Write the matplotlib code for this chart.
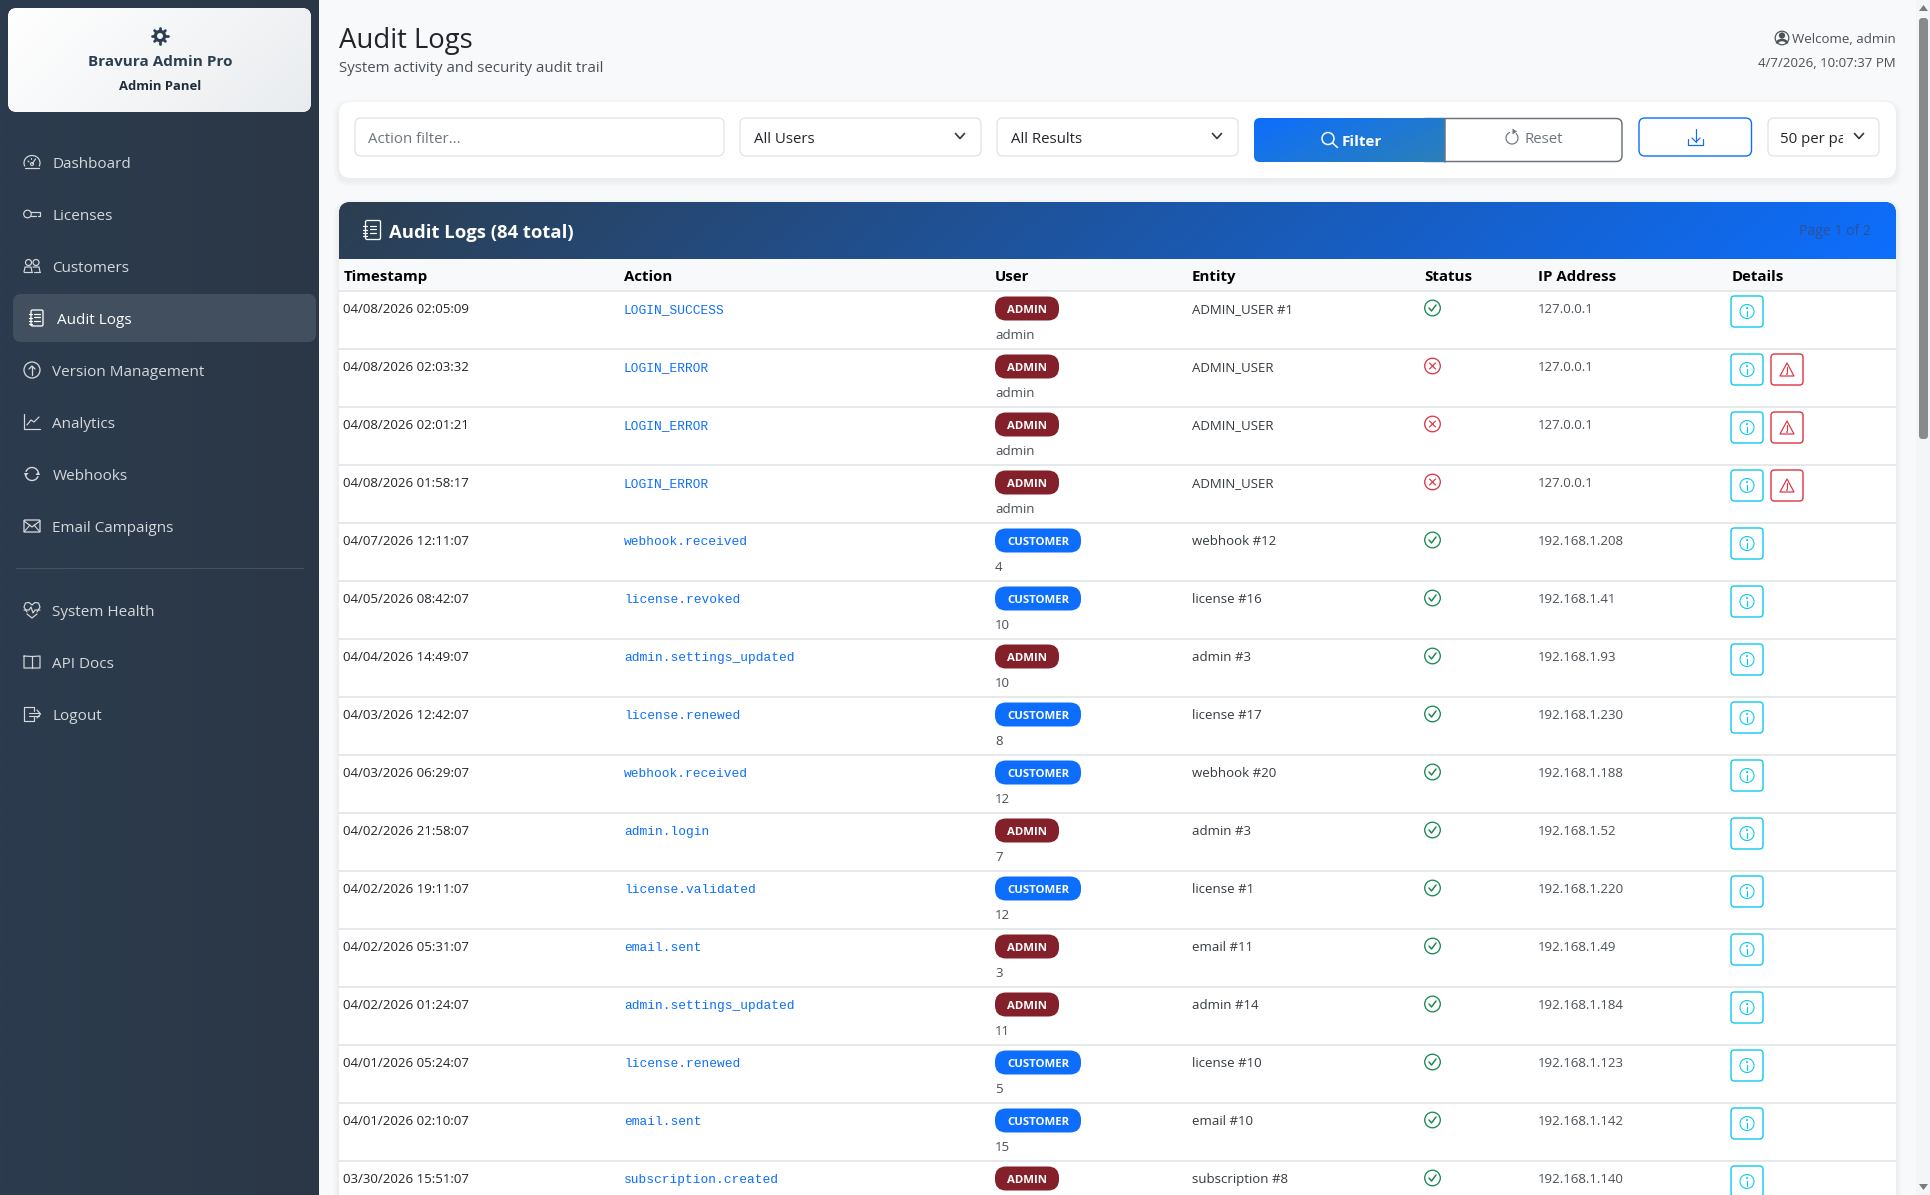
import numpy as np
import matplotlib
matplotlib.use('Agg')
import matplotlib.pyplot as plt
from matplotlib.colors import LinearSegmentedColormap
from matplotlib.patches import Arc, Circle, FancyBboxPatch, Polygon, Rectangle

W, H = 1931, 1195
SANS = 'Open Sans'
MONO = 'Liberation Mono'

nav_top = ['Dashboard', 'Licenses', 'Customers', 'Audit Logs', 'Version Management',
           'Analytics', 'Webhooks', 'Email Campaigns']
nav_bottom = ['System Health', 'API Docs', 'Logout']

columns = ['Timestamp', 'Action', 'User', 'Entity', 'Status', 'IP Address', 'Details']
timestamps = ['04/08/2026 02:05:09', '04/08/2026 02:03:32', '04/08/2026 02:01:21',
              '04/08/2026 01:58:17', '04/07/2026 12:11:07', '04/05/2026 08:42:07',
              '04/04/2026 14:49:07', '04/03/2026 12:42:07', '04/03/2026 06:29:07',
              '04/02/2026 21:58:07', '04/02/2026 19:11:07', '04/02/2026 05:31:07',
              '04/02/2026 01:24:07', '04/01/2026 05:24:07', '04/01/2026 02:10:07',
              '03/30/2026 15:51:07']
actions = ['LOGIN_SUCCESS', 'LOGIN_ERROR', 'LOGIN_ERROR', 'LOGIN_ERROR', 'webhook.received',
           'license.revoked', 'admin.settings_updated', 'license.renewed', 'webhook.received',
           'admin.login', 'license.validated', 'email.sent', 'admin.settings_updated',
           'license.renewed', 'email.sent', 'subscription.created']
user_types = ['ADMIN', 'ADMIN', 'ADMIN', 'ADMIN', 'CUSTOMER', 'CUSTOMER', 'ADMIN', 'CUSTOMER',
              'CUSTOMER', 'ADMIN', 'CUSTOMER', 'ADMIN', 'ADMIN', 'CUSTOMER', 'CUSTOMER', 'ADMIN']
user_ids = ['admin', 'admin', 'admin', 'admin', '4', '10', '10', '8', '12', '7', '12', '3',
            '11', '5', '15', '']
entities = ['ADMIN_USER #1', 'ADMIN_USER', 'ADMIN_USER', 'ADMIN_USER', 'webhook #12',
            'license #16', 'admin #3', 'license #17', 'webhook #20', 'admin #3', 'license #1',
            'email #11', 'admin #14', 'license #10', 'email #10', 'subscription #8']
success = [True, False, False, False, True, True, True, True, True, True, True, True, True,
           True, True, True]
ips = ['127.0.0.1', '127.0.0.1', '127.0.0.1', '127.0.0.1', '192.168.1.208', '192.168.1.41',
       '192.168.1.93', '192.168.1.230', '192.168.1.188', '192.168.1.52', '192.168.1.220',
       '192.168.1.49', '192.168.1.184', '192.168.1.123', '192.168.1.142', '192.168.1.140']

fig = plt.figure(figsize=(W / 100, H / 100), dpi=100, facecolor='#f8f9fa')
ax = fig.add_axes([0, 0, 1, 1])
ax.set_xlim(0, W)
ax.set_ylim(H, 0)
ax.axis('off')


def px(v):
    return v * 0.72


def rbox(x0, y0, x1, y1, r=6, fc='white', ec='none', lw=1.0, z=2, alpha=None):
    p = FancyBboxPatch((x0 + r, y0 + r), x1 - x0 - 2 * r, y1 - y0 - 2 * r,
                       boxstyle=f'round,pad={r},rounding_size={r}',
                       fc=fc, ec=ec, lw=lw, zorder=z, alpha=alpha)
    ax.add_patch(p)
    return p


def gradient(x0, y0, x1, y1, c0, c1, clip, slant=0.0, z=3):
    yy, xx = np.mgrid[0:1:40j, 0:1:300j]
    t = (xx + slant * yy) / (1 + slant)
    cmap = LinearSegmentedColormap.from_list('g', [c0, c1])
    im = ax.imshow(t, extent=[x0, x1, y1, y0], cmap=cmap, zorder=z, aspect='auto',
                   interpolation='bilinear')
    im.set_clip_path(clip)
    ax.set_xlim(0, W)
    ax.set_ylim(H, 0)


def txt(x, y, s, size, color='#212529', weight='normal', ha='left', family=SANS, z=6):
    return ax.text(x, y, s, fontsize=px(size), color=color, fontweight=weight, ha=ha,
                   va='baseline', family=family, zorder=z)


def line(xs, ys, color, lw=1.3, z=6):
    ax.plot(xs, ys, color=color, lw=px(lw), solid_capstyle='round',
            solid_joinstyle='round', zorder=z)


def circ(x, y, r, color, lw=1.3, fill='none', z=6):
    ax.add_patch(Circle((x, y), r, fc=fill, ec=color, lw=px(lw), zorder=z))


def shadow(x0, y0, x1, y1, r=12):
    for k in range(6, 0, -1):
        rbox(x0 - k, y0 - k + 3, x1 + k, y1 + k + 3, r=r + k, fc='#000000', alpha=0.006, z=1)


def chevron(x, y, color='#343a40'):
    line([x - 4.5, x, x + 4.5], [y - 2.5, y + 2.5, y - 2.5], color, lw=1.7)


# sidebar icons
def ic_gauge(x, y, c):
    ax.add_patch(Arc((x, y + 1), 16, 15, theta1=-205, theta2=25, ec=c, lw=px(1.2), zorder=6))
    line([x - 7, x + 7], [y + 6, y + 6], c, 1.2)
    line([x, x + 3.5], [y + 2, y - 3], c, 1.2)
    circ(x, y + 2, 1.5, c, 1)
    line([x - 4, x - 3], [y - 1, y], c, 1.1)
    line([x - 1, x - 1], [y - 4, y - 3], c, 1.1)


def ic_key(x, y, c):
    circ(x - 4.5, y, 3.8, c, 1.2)
    line([x - 1, x + 8, x + 8, x + 6], [y - 2, y - 2, y + 2, y + 2], c, 1.2)
    line([x - 1, x + 4], [y + 2, y + 2], c, 1.2)


def ic_people(x, y, c):
    circ(x - 3.5, y - 3.5, 3, c, 1.2)
    circ(x + 4, y - 3.5, 3, c, 1.2)
    line([x - 8, x - 7, x - 1, x], [y + 6, y + 1, y + 1, y + 6], c, 1.2)
    line([x + 1, x + 2, x + 7, x + 8], [y + 1, y + 1, y + 1, y + 6], c, 1.2)
    line([x - 8, x], [y + 6, y + 6], c, 1.2)
    line([x + 2, x + 8], [y + 6, y + 6], c, 1.2)


def ic_journal(x, y, c, w=13, h=18):
    rbox(x - w / 2 + 1, y - h / 2, x + w / 2 + 1, y + h / 2, r=1.5, fc='none', ec=c, lw=px(1.3), z=6)
    for dy in (-4.5, -1, 2.5):
        line([x - 1.5, x + 4.5], [y + dy, y + dy], c, 1.2)
        line([x - w / 2 - 1, x - w / 2 + 2.5], [y + dy + 0.5, y + dy + 0.5], c, 1.2)
    line([x - w / 2 - 1, x - w / 2 + 2.5], [y + 6, y + 6], c, 1.2)


def ic_up(x, y, c):
    circ(x, y, 8, c, 1.3)
    line([x, x], [y + 4.5, y - 4], c, 1.3)
    line([x - 3, x, x + 3], [y - 1, y - 4, y - 1], c, 1.3)


def ic_chart(x, y, c):
    line([x - 8, x - 8, x + 8], [y - 8, y + 7, y + 7], c, 1.2)
    line([x - 5, x - 1, x + 2, x + 7], [y + 3, y - 2, y, y - 5], c, 1.2)


def ic_sync(x, y, c):
    ax.add_patch(Arc((x, y), 13, 13, theta1=200, theta2=340, ec=c, lw=px(1.4), zorder=6))
    ax.add_patch(Arc((x, y), 13, 13, theta1=20, theta2=160, ec=c, lw=px(1.4), zorder=6))
    ax.add_patch(Polygon([[x - 8, y - 1], [x - 3.5, y - 1], [x - 6.5, y + 3]], fc=c, ec='none', zorder=6))
    ax.add_patch(Polygon([[x + 8, y + 1], [x + 3.5, y + 1], [x + 6.5, y - 3]], fc=c, ec='none', zorder=6))


def ic_mail(x, y, c):
    rbox(x - 8, y - 6, x + 8, y + 6, r=1, fc='none', ec=c, lw=px(1.3), z=6)
    line([x - 8, x, x + 8], [y - 5, y + 1, y - 5], c, 1.2)
    line([x - 8, x - 2], [y + 6, y - 1], c, 1.1)
    line([x + 8, x + 2], [y + 6, y - 1], c, 1.1)


def ic_heart(x, y, c):
    line([x - 5, x - 8, x - 6.5, x - 3, x, x + 3, x + 6.5, x + 8, x + 5],
         [y + 2, y - 3, y - 7, y - 7.5, y - 5, y - 7.5, y - 7, y - 3, y + 2], c, 1.2)
    line([x - 5, x, x + 5], [y + 4, y + 8, y + 4], c, 1.2)
    line([x - 8, x - 3, x - 1, x + 1, x + 3, x + 8], [y, y, y - 3, y + 3, y, y], c, 1.2)


def ic_book(x, y, c):
    line([x - 8, x - 8, x, x + 8, x + 8, x, x - 8], [y - 6, y + 6, y + 6, y + 6, y - 6, y - 5.5, y - 6], c, 1.2)
    line([x, x], [y - 6, y + 6], c, 1.2)


def ic_exit(x, y, c):
    line([x + 2, x + 2, x - 8, x - 8, x + 2, x + 2], [y - 3, y - 7, y - 7, y + 7, y + 7, y + 3], c, 1.2)
    line([x - 3, x + 7], [y - 1.5, y - 1.5], c, 1.1)
    line([x - 3, x + 7], [y + 1.5, y + 1.5], c, 1.1)
    line([x + 5, x + 8.5, x + 5], [y - 4, y, y + 4], c, 1.2)


# sidebar
sb_clip = Rectangle((0, 0), 319, H, fc='#2c3a4b', zorder=2)
ax.add_patch(sb_clip)
gradient(0, 0, 319, H, '#2c3c4e', '#2b3746', sb_clip, z=2.5)

hdr = rbox(8, 8, 311, 112, r=9, fc='white', z=3)
gradient(8, 8, 311, 112, '#ffffff', '#e9ecef', hdr, slant=0.35, z=3.5)
circ(160, 36, 4.6, '#2c3e50', 3.2)
for a in np.deg2rad(np.arange(0, 360, 45)):
    line([160 + 6 * np.cos(a), 160 + 7.6 * np.cos(a)],
         [36 + 6 * np.sin(a), 36 + 7.6 * np.sin(a)], '#2c3e50', 2.8)
txt(160, 66, 'Bravura Admin Pro', 15.2, '#2c3e50', 'bold', 'center')
txt(160, 90, 'Admin Panel', 13, '#212c3a', 'bold', 'center')

rbox(13, 294, 316, 342, r=8, fc='#414f5e', z=3)

nav_color = '#d5d8db'
nav_icons = [ic_gauge, ic_key, ic_people, None, ic_up, ic_chart, ic_sync, ic_mail]
for i, name in enumerate(nav_top):
    yc = 163 + 52 * i
    if name == 'Audit Logs':
        ic_journal(36, yc - 1, 'white', 12, 16)
        txt(57.5, yc + 4.5, name, 15.2, 'white')
    else:
        nav_icons[i](32, yc - 1, nav_color)
        txt(52.5, yc + 4.5, name, 15.2, nav_color)

line([16, 303], [568, 568], '#46535f', 1.2, z=4)
bottom_icons = [ic_heart, ic_book, ic_exit]
for i, name in enumerate(nav_bottom):
    yc = 611 + 52 * i
    bottom_icons[i](32, yc - 1, nav_color)
    txt(52.5, yc + 4.5, name, 15.2, nav_color)

# page head
txt(339, 48, 'Audit Logs', 27.5, '#212529')
txt(339, 72, 'System activity and security audit trail', 15, '#495057')
txt(1895.5, 43, 'Welcome, admin', 13.2, '#495057', ha='right')
txt(1895.5, 67, '4/7/2026, 10:07:37 PM', 13.2, '#495057', ha='right')
circ(1782, 38, 6.8, '#495057', 1.2)
circ(1782, 35.5, 2.6, '#495057', 1, fill='#495057')
ax.add_patch(Arc((1782, 43.5), 10, 7, theta1=180, theta2=360, ec='#495057', lw=px(2.5), zorder=6))

# filter card
shadow(339, 102, 1896, 178)
rbox(339, 102, 1896, 178, r=12, fc='white')
border = '#dee2e6'
rbox(355, 118, 724, 156, r=6, ec=border, lw=px(1.2), z=3)
txt(368.5, 142.5, 'Action filter...', 15, '#6c757d')
rbox(740, 118, 981, 156, r=6, ec=border, lw=px(1.2), z=3)
txt(754, 142.5, 'All Users', 15)
chevron(960, 136)
rbox(997, 118, 1238, 156, r=6, ec=border, lw=px(1.2), z=3)
txt(1011, 142.5, 'All Results', 15)
chevron(1217, 136)

# filter and reset sit joined together, reset goes under the filter gradient
rbox(1420, 118.5, 1622, 161.5, r=6, fc='white', ec='#6c757d', lw=px(1.5), z=3)
btn = rbox(1254, 118, 1470, 162, r=6, fc='none', z=3.1)
gradient(1254, 118, 1444.5, 162, '#0d6efd', '#2c80b8', btn, slant=0.5, z=3.2)
line([1445, 1445], [118.5, 161.5], '#6c757d', 1.5, z=3.6)
circ(1328, 138.5, 6, 'white', 1.5)
line([1332.5, 1337.5], [143, 147.5], 'white', 1.6)
txt(1342, 146, 'Filter', 15.2, 'white', 'bold')
ax.add_patch(Arc((1512, 138), 12, 12, theta1=-50, theta2=250, ec='#6c757d', lw=px(1.2), zorder=6))
ax.add_patch(Polygon([[1512.5, 128.5], [1512.5, 134.5], [1517, 131.5]], fc='#6c757d', ec='none', zorder=6))
txt(1525, 142.5, 'Reset', 15, '#6c757d')

rbox(1639, 118, 1751.5, 156, r=6, ec='#0d6efd', lw=px(1.4), z=3)
line([1696, 1696], [129, 142], '#0d6efd', 1.2)
line([1692, 1696, 1700], [138, 142, 138], '#0d6efd', 1.2)
line([1688.5, 1688.5, 1703.5, 1703.5], [139, 144.5, 144.5, 139], '#0d6efd', 1.2)

rbox(1768, 118, 1879, 156, r=6, ec=border, lw=px(1.2), z=3)
t = txt(1780, 142.5, '50 per page', 15)
t.set_clip_path(Rectangle((1770, 118), 73, 38, transform=ax.transData))
t.set_clip_on(True)
chevron(1859, 136)

# table panel
shadow(339, 202, 1896, H + 40)
ax.add_patch(Rectangle((339, 240), 1557, H - 240, fc='white', ec='none', zorder=2))
head = rbox(339, 202, 1896, 290, r=12, fc='#2c3e50', z=2.2)
gradient(339, 202, 1896, 258.5, '#2c3e50', '#0d6efd', head, slant=0.04, z=2.4)
ax.add_patch(Rectangle((339, 258.5), 1557, 32.5, fc='#f8f9fa', ec='none', zorder=2.6))
ic_journal(372, 230, 'white', 15, 19)
txt(389, 238, 'Audit Logs (84 total)', 18.5, 'white', 'bold')
txt(1871, 235, 'Page 1 of 2', 14, '#2b5496', ha='right')

col_x = [343.5, 624.5, 995, 1192, 1424.5, 1538, 1731.5]
for x, name in zip(col_x, columns):
    txt(x, 280.5, name, 15, '#000000', 'bold')
line([339, 1896], [291, 291], border, 1.5, z=3)

for i, ts in enumerate(timestamps):
    top = 291 + 58 * i
    line([339, 1896], [top + 58, top + 58], border, 1.5, z=3)
    txt(343.5, top + 22, ts, 13.2, '#212529')
    txt(624, top + 22, actions[i], 12.9, '#0d6efd', family=MONO)

    is_admin = user_types[i] == 'ADMIN'
    rbox(995, top + 5.5, 1059 if is_admin else 1081, top + 29.5, r=11,
         fc='#842029' if is_admin else '#0d6efd', z=4)
    txt(1027 if is_admin else 1038, top + 22, user_types[i], 11.4, 'white', 'bold', 'center')
    txt(995, top + 48, user_ids[i], 13.2, '#495057')
    txt(1192, top + 22, entities[i], 13.2, '#343a40')

    cx, cy = 1432.5, top + 17
    if success[i]:
        circ(cx, cy, 7.8, '#198754', 1.3)
        line([cx - 3.5, cx - 1, cx + 3.5], [cy, cy + 3, cy - 3], '#198754', 1.5)
    else:
        circ(cx, cy, 7.8, '#dc3545', 1.3)
        line([cx - 3, cx + 3], [cy - 3, cy + 3], '#dc3545', 1.2)
        line([cx - 3, cx + 3], [cy + 3, cy - 3], '#dc3545', 1.2)

    txt(1538, top + 22, ips[i], 13.2, '#495057')

    rbox(1731, top + 5, 1763, top + 36, r=3.5, ec='#0dcaf0', lw=px(1.4), z=4)
    circ(1747, top + 20.5, 7, '#0dcaf0', 1.1)
    line([1747, 1747], [top + 20, top + 25], '#0dcaf0', 1.3)
    circ(1747, top + 17, 0.5, '#0dcaf0', 1)
    if not success[i]:
        rbox(1771, top + 5, 1803, top + 36, r=3.5, ec='#dc3545', lw=px(1.4), z=4)
        ax.add_patch(Polygon([[1787, top + 14], [1794, top + 27], [1780, top + 27]], fc='none',
                             ec='#dc3545', lw=px(1.2), joinstyle='round', zorder=6))
        line([1787, 1787], [top + 18, top + 22.5], '#dc3545', 1.2)
        circ(1787, top + 25, 0.4, '#dc3545', 1)

# scrollbar
ax.add_patch(Rectangle((1916, 0), 15, H, fc='#f4f5f6', ec='none', zorder=7))
rbox(1919, 18, 1928, 439, r=3.5, fc='#8a8a8a', z=8)
ax.add_patch(Polygon([[1923.5, 5], [1919, 11], [1928, 11]], fc='#7a7a7a', ec='none', zorder=8))
ax.add_patch(Polygon([[1923.5, 1190], [1919, 1184], [1928, 1184]], fc='#7a7a7a', ec='none', zorder=8))

fig.savefig('out.png', dpi=100, facecolor=fig.get_facecolor())
